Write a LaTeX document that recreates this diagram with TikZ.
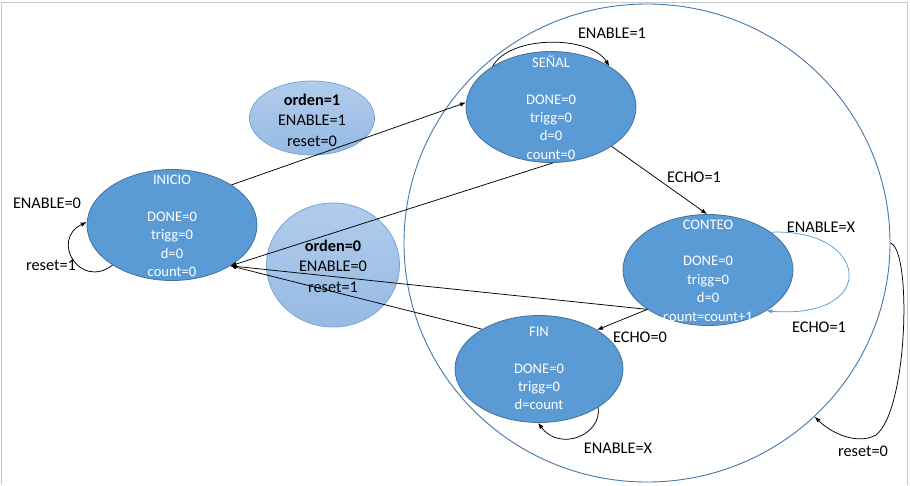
\documentclass[tikz,border=0pt]{standalone}
\usepackage{fontspec}
\setmainfont{Carlito}
\usetikzlibrary{shapes.geometric,arrows.meta}
\definecolor{stfill}{RGB}{91,155,213}
\definecolor{stline}{RGB}{65,113,156}
\definecolor{ordtop}{RGB}{177,204,236}
\definecolor{ordbot}{RGB}{150,186,228}
\definecolor{ordline}{RGB}{120,165,215}
\definecolor{bigline}{RGB}{70,120,170}
\definecolor{loopblue}{RGB}{91,155,213}
\definecolor{framegray}{RGB}{200,200,200}
\begin{document}
\begin{tikzpicture}[x=1pt,y=-1pt,
 state/.style={ellipse, draw=stline, line width=0.8pt, fill=stfill, minimum width=170pt, minimum height=111pt, inner sep=0pt},
 stxt/.style={text=white, align=center, font=\fontsize{14.6}{18.4}\selectfont, inner sep=0pt},
 ord/.style={ellipse, draw=ordline, line width=0.8pt, top color=ordtop, bottom color=ordbot, inner sep=0pt},
 otxt/.style={align=center, font=\fontsize{16.3}{20.5}\selectfont, inner sep=0pt},
 lbl/.style={font=\fontsize{16.3}{19}\selectfont, inner sep=0pt},
 arr/.style={draw=black, line width=0.75pt, -{Latex[length=6pt,width=4.5pt]}},
 ]
\useasboundingbox (0,0) rectangle (910,485);
\fill[white] (0,0) rectangle (910,485);
\draw[framegray, line width=1pt] (1,485) -- (1,2) -- (907,2) -- (907,485);

% big enclosing circle
\node[ellipse, draw=bigline, line width=0.9pt, minimum width=486pt, minimum height=478pt, inner sep=0pt] (big) at (647,243) {};

% condition bubbles
\node[ord, minimum width=125pt, minimum height=74pt] (ord1) at (312,118) {};
\node[otxt] (ord1t) at (312,120) {\textbf{orden=1}\\ENABLE=1\\reset=0};
\node[ord, minimum width=133pt, minimum height=124pt] (ord0) at (333,265) {};
\node[otxt] (ord0t) at (333,266) {\textbf{orden=0}\\ENABLE=0\\reset=1};

% states
\node[state] (inicio) at (172,225) {};
\node[stxt] (iniciot) at (172,226) {INICIO\\\mbox{}\\DONE=0\\trigg=0\\d=0\\count=0};
\node[state] (senal) at (551,107) {};
\node[stxt] (senalt) at (551,107.5) {SEÑAL\\\mbox{}\\DONE=0\\trigg=0\\d=0\\count=0};
\node[state] (conteo) at (708,270) {};
\node[stxt] (conteot) at (708,270.5) {CONTEO\\\mbox{}\\DONE=0\\trigg=0\\d=0\\count=count+1};
\node[state, minimum width=168pt, minimum height=107pt] (fin) at (539,369) {};
\node[stxt] (fint) at (539,368.5) {FIN\\\mbox{}\\DONE=0\\trigg=0\\d=count};

% transitions
\draw[arr] (inicio.34) -- (senal.177);
\draw[arr] (senal.-88) -- (inicio.-35);
\draw[arr] (conteo.-147) -- (inicio.-35);
\draw[arr] (fin.145) -- (inicio.-35);
\draw[arr] (senal.-33) -- (conteo.91);
\draw[arr] (conteo.-147) -- (fin.34);

% self loops
\draw[arr] (inicio.-146) .. controls (80,290) and (50,240) .. (inicio.178);
\draw[arr] (senal.145) .. controls (510,35) and (590,35) .. (senal.35);
\draw[arr, draw=loopblue, -{Latex[length=6pt,width=4.5pt,color=loopblue]}] (conteo.31) .. controls (870,228) and (880,320) .. (conteo.-35);
\draw[arr] (fin.-33) .. controls (602,435) and (560,452) .. (fin.-91);
\coordinate (bend) at (876,435);
\draw[arr] (big.0) .. controls (912,250) and (908,410) .. (bend) .. controls (858,445) and (832,434) .. (big.-46);

% labels
\node[lbl] (l1) at (47,203) {ENABLE=0};
\node[lbl] (l2) at (51,265) {reset=1};
\node[lbl] (l3) at (612,33) {ENABLE=1};
\node[lbl] (l4) at (694,177) {ECHO=1};
\node[lbl] (l5) at (821,227) {ENABLE=X};
\node[lbl] (l6) at (819,327) {ECHO=1};
\node[lbl] (l7) at (640,337) {ECHO=0};
\node[lbl] (l8) at (618,448) {ENABLE=X};
\node[lbl] (l9) at (863,451) {reset=0};
\end{tikzpicture}
\end{document}
